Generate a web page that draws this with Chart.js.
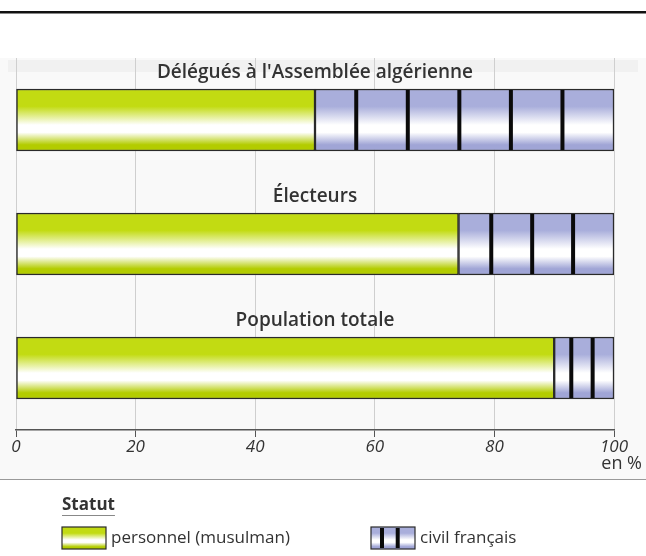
<!DOCTYPE html>
<html lang="fr">
<head>
<meta charset="utf-8">
<title>Statut des populations en Algérie</title>
<script src="https://cdn.jsdelivr.net/npm/chart.js@4/dist/chart.umd.min.js"></script>
<style>
  html, body { margin: 0; padding: 0; background: #ffffff; }
  #wrap { position: relative; width: 646px; height: 556px; }
  canvas { display: block; }
</style>
</head>
<body>
<div id="wrap"><canvas id="graphique" width="646" height="556"></canvas></div>
<script>
// Données (en %)
const categories = ["Délégués à l'Assemblée algérienne", 'Électeurs', 'Population totale'];
const personnel = [50, 74, 90];   // statut personnel (musulman)
const civil = [50, 26, 10];       // statut civil français
const hatchCounts = [5, 3, 2];    // traits noirs dans la partie bleue
const xTicks = [0, 20, 40, 60, 80, 100];
const legendTitle = 'Statut';
const legendLabels = ['personnel (musulman)', 'civil français'];
const unitLabel = 'en %';

const FONT = '"Open Sans", "Noto Sans", sans-serif';
const TEXT = '#333333';

function barGradient(ctx, top, bottom, edge, edge2) {
    const g = ctx.createLinearGradient(0, top, 0, bottom);
    g.addColorStop(0, edge);
    g.addColorStop(0.28, edge);
    g.addColorStop(0.58, '#ffffff');
    g.addColorStop(0.7, '#ffffff');
    g.addColorStop(0.9, edge2);
    g.addColorStop(1, edge2);
    return g;
}

function fillFor(edge, edge2) {
    return function (context) {
        const chart = context.chart;
        const y = chart.scales.y;
        if (!chart.chartArea || !y || context.dataIndex === undefined) return edge;
        const c = y.getPixelForTick(context.dataIndex);
        return barGradient(chart.ctx, c - 31, c + 31, edge, edge2);
    };
}

const GREEN = '#c2db12', GREEN2 = '#b3cc00';
const BLUE = '#a9aedb', BLUE2 = '#a0a5d6';

// fond gris clair et lignes de séparation
const cadre = {
    id: 'cadre',
    beforeDraw(chart) {
        const ctx = chart.ctx;
        ctx.save();
        ctx.fillStyle = '#f9f9f9';
        ctx.fillRect(0, 58, chart.width, 422);
        ctx.fillStyle = '#f1f1f1';
        ctx.fillRect(8, 60, chart.width - 16, 12);
        ctx.fillStyle = '#111111';
        ctx.fillRect(0, 11, chart.width, 2.5);
        ctx.strokeStyle = '#9a9a9a';
        ctx.lineWidth = 1;
        ctx.beginPath();
        ctx.moveTo(0, 479.5);
        ctx.lineTo(chart.width, 479.5);
        ctx.stroke();
        ctx.restore();
    }
};

// titres au-dessus des barres, traits noirs, légende
const habillage = {
    id: 'habillage',
    afterDatasetsDraw(chart) {
        const ctx = chart.ctx;
        const area = chart.chartArea;
        const meta = chart.getDatasetMeta(1);
        ctx.save();
        // traits dans la partie « civil français »
        ctx.strokeStyle = '#0a0a0a';
        ctx.lineWidth = 4;
        meta.data.forEach((bar, i) => {
            const p = bar.getProps(['x', 'y', 'base', 'height'], true);
            const n = hatchCounts[i];
            const w = p.x - p.base;
            for (let k = 0; k < n; k++) {
                const xx = p.base + w * (k + 0.8) / (n + 0.8);
                ctx.beginPath();
                ctx.moveTo(xx, p.y - p.height / 2 + 1);
                ctx.lineTo(xx, p.y + p.height / 2 - 1);
                ctx.stroke();
            }
        });
        // titres
        ctx.fillStyle = TEXT;
        ctx.font = '600 19px ' + FONT;
        ctx.textAlign = 'center';
        ctx.textBaseline = 'middle';
        const cx = (area.left + area.right) / 2;
        chart.data.labels.forEach((lab, i) => {
            const c = chart.scales.y.getPixelForTick(i);
            ctx.fillText(lab, cx, c - 47);
        });
        ctx.restore();
    },
    afterDraw(chart) {
        const ctx = chart.ctx;
        const area = chart.chartArea;
        ctx.save();
        ctx.fillStyle = TEXT;
        ctx.font = '18px ' + FONT;
        ctx.textAlign = 'right';
        ctx.textBaseline = 'middle';
        ctx.fillText(unitLabel, area.right + 28, 464);

        // légende
        ctx.textAlign = 'left';
        ctx.font = '700 17px ' + FONT;
        ctx.fillText(legendTitle, 62, 505);
        const tw = ctx.measureText(legendTitle).width;
        ctx.strokeStyle = '#888888';
        ctx.lineWidth = 1;
        ctx.beginPath();
        ctx.moveTo(62, 515.5);
        ctx.lineTo(62 + tw, 515.5);
        ctx.stroke();

        const sw = [[62, GREEN, GREEN2, 0], [371, BLUE, BLUE2, 2]];
        ctx.font = '17px ' + FONT;
        sw.forEach((s, i) => {
            const x0 = s[0], y0 = 527, w = 44, h = 22;
            ctx.fillStyle = barGradient(ctx, y0, y0 + h, s[1], s[2]);
            ctx.fillRect(x0, y0, w, h);
            ctx.strokeStyle = '#2a2a2a';
            ctx.lineWidth = 1.2;
            ctx.strokeRect(x0, y0, w, h);
            ctx.strokeStyle = '#0a0a0a';
            ctx.lineWidth = 4;
            for (let k = 0; k < s[3]; k++) {
                const xx = x0 + w * (k + 0.7) / (s[3] + 0.8);
                ctx.beginPath();
                ctx.moveTo(xx, y0 + 1);
                ctx.lineTo(xx, y0 + h - 1);
                ctx.stroke();
            }
            ctx.fillStyle = TEXT;
            ctx.fillText(legendLabels[i], x0 + w + 5, y0 + h / 2);
        });
        ctx.restore();
    }
};

new Chart(document.getElementById('graphique'), {
    type: 'bar',
    data: {
        labels: categories,
        datasets: [
            {
                label: legendLabels[0],
                data: personnel,
                backgroundColor: fillFor(GREEN, GREEN2),
                borderColor: '#2a2a2a',
                borderWidth: 1.5,
                borderSkipped: false,
                barThickness: 62
            },
            {
                label: legendLabels[1],
                data: civil,
                backgroundColor: fillFor(BLUE, BLUE2),
                borderColor: '#2a2a2a',
                borderWidth: 1.5,
                borderSkipped: false,
                barThickness: 62
            }
        ]
    },
    options: {
        indexAxis: 'y',
        responsive: false,
        animation: false,
        layout: { padding: { top: 58, left: 16, right: 32, bottom: 0 } },
        plugins: {
            legend: { display: false },
            tooltip: { enabled: false }
        },
        scales: {
            x: {
                stacked: true,
                min: 0,
                max: 100,
                afterFit(scale) {
                    scale.height = 556 - 430;
                    scale.paddingLeft = 0;
                    scale.paddingRight = 0;
                },
                afterBuildTicks(scale) {
                    scale.ticks = xTicks.map(v => ({ value: v }));
                },
                grid: {
                    color: '#cfcfcf',
                    lineWidth: 1,
                    drawTicks: true,
                    tickLength: 7,
                    tickColor: '#555555'
                },
                border: { display: true, color: '#555555', width: 1.5 },
                ticks: {
                    color: TEXT,
                    padding: 0,
                    maxRotation: 0,
                    font: { family: FONT, size: 17, style: 'italic' }
                }
            },
            y: {
                stacked: true,
                display: false
            }
        }
    },
    plugins: [cadre, habillage]
});
</script>
</body>
</html>
